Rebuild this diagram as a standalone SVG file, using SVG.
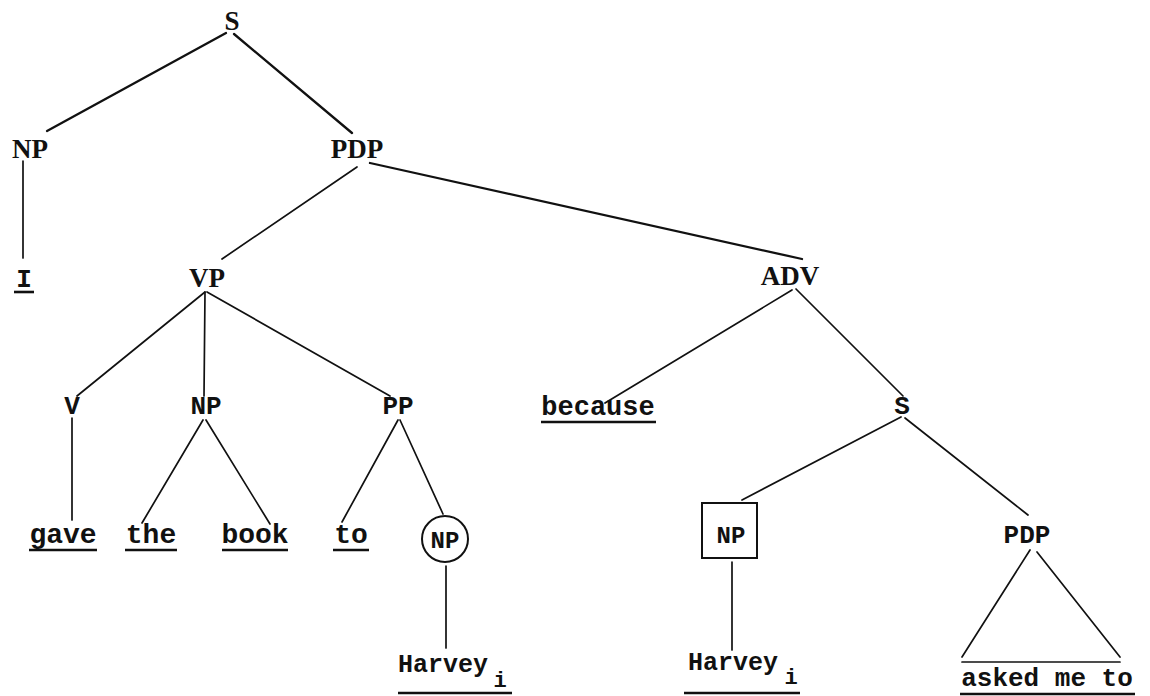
<svg xmlns="http://www.w3.org/2000/svg" width="1150" height="696" viewBox="0 0 1150 696">
<style>
.serif{font-family:"Liberation Serif","Times New Roman",serif;font-weight:bold;font-size:27px;fill:#111;text-anchor:middle}
.mono{font-family:"Liberation Mono","Courier New",monospace;font-weight:bold;font-size:26px;fill:#111;text-anchor:middle}
.word{font-family:"Liberation Mono","Courier New",monospace;font-weight:bold;font-size:28px;fill:#111;text-anchor:middle}
.sub{font-family:"Liberation Mono","Courier New",monospace;font-weight:bold;font-size:22px;fill:#111;text-anchor:middle}
.ul{stroke:#111;stroke-width:2.6;fill:none}
.edge{stroke:#111;stroke-width:1.7;fill:none;stroke-linecap:round}
.thick{stroke-width:2.3}
.frame{stroke:#111;stroke-width:2;fill:none}
</style>
<rect width="1150" height="696" fill="#fff"/>
<g id="connectors">
<line class="edge thick" x1="226" y1="33" x2="47" y2="131"/>
<line class="edge thick" x1="234" y1="34" x2="352" y2="133"/>
<line class="edge" x1="23" y1="161" x2="23" y2="258"/>
<line class="edge" x1="357" y1="167" x2="222" y2="259"/>
<line class="edge thick" x1="370" y1="163" x2="802" y2="259"/>
<line class="edge" x1="205" y1="292" x2="77" y2="396"/>
<line class="edge" x1="205" y1="292" x2="204" y2="396"/>
<line class="edge" x1="207" y1="292" x2="390" y2="396"/>
<line class="edge" x1="72" y1="418" x2="72" y2="520"/>
<line class="edge" x1="203" y1="420" x2="142" y2="523"/>
<line class="edge" x1="206" y1="420" x2="270" y2="524"/>
<line class="edge" x1="398" y1="420" x2="342" y2="522"/>
<line class="edge" x1="400" y1="420" x2="443" y2="514"/>
<line class="edge" x1="446" y1="566" x2="446" y2="648"/>
<line class="edge" x1="792" y1="290" x2="605" y2="403"/>
<line class="edge" x1="796" y1="289" x2="903" y2="396"/>
<line class="edge" x1="901" y1="417" x2="742" y2="500"/>
<line class="edge" x1="905" y1="418" x2="1028" y2="515"/>
<line class="edge" x1="732" y1="562" x2="732" y2="650"/>
<line class="edge" x1="1030" y1="550" x2="962" y2="657"/>
<line class="edge" x1="1037" y1="552" x2="1120" y2="657"/>
<line class="edge" x1="962" y1="662" x2="1120" y2="662"/>
</g>
<g id="S-top"><text class="serif" x="232" y="30">S</text></g>
<g id="NP-top"><text class="serif" x="30" y="158">NP</text></g>
<g id="PDP-top"><text class="serif" x="357" y="158">PDP</text></g>
<g id="I"><text class="mono" x="24" y="287">I</text><line class="ul" x1="14" y1="292" x2="34" y2="292"/></g>
<g id="VP"><text class="serif" x="207" y="287">VP</text></g>
<g id="ADV"><text class="serif" x="790" y="285">ADV</text></g>
<g id="V"><text class="mono" x="72" y="414">V</text></g>
<g id="NP-mid"><text class="mono" x="206" y="414">NP</text></g>
<g id="PP"><text class="mono" x="398" y="414">PP</text></g>
<g id="because"><text class="mono" x="598" y="415" style="font-size:27px">because</text><line class="ul" x1="541" y1="422" x2="656" y2="422"/></g>
<g id="S-low"><text class="mono" x="902" y="414">S</text></g>
<g id="gave"><text class="word" x="63" y="543">gave</text><line class="ul" x1="29" y1="550" x2="97" y2="550"/></g>
<g id="the"><text class="word" x="151" y="543">the</text><line class="ul" x1="125" y1="550" x2="177" y2="550"/></g>
<g id="book"><text class="word" x="255" y="543">book</text><line class="ul" x1="222" y1="550" x2="288" y2="550"/></g>
<g id="to"><text class="word" x="351" y="543">to</text><line class="ul" x1="333" y1="550" x2="369" y2="550"/></g>
<g id="NP-circle"><circle class="frame" cx="445" cy="539" r="23"/><text class="mono" x="445" y="548" style="font-size:24px">NP</text></g>
<g id="NP-box"><rect class="frame" x="702" y="503" width="55" height="55"/><text class="mono" x="731" y="543" style="font-size:24px">NP</text></g>
<g id="PDP-low"><text class="mono" x="1027" y="543">PDP</text></g>
<g id="Harvey-left"><text class="mono" x="443" y="672" style="font-size:25px">Harvey</text><text class="sub" x="500" y="687">i</text><line class="ul" x1="398" y1="693" x2="512" y2="693"/></g>
<g id="Harvey-right"><text class="mono" x="733" y="670" style="font-size:25px">Harvey</text><text class="sub" x="791" y="684">i</text><line class="ul" x1="684" y1="693" x2="800" y2="693"/></g>
<g id="asked-me-to"><text class="mono" x="1047" y="686">asked me to</text><line class="ul" x1="960" y1="694" x2="1135" y2="694"/></g>
</svg>
